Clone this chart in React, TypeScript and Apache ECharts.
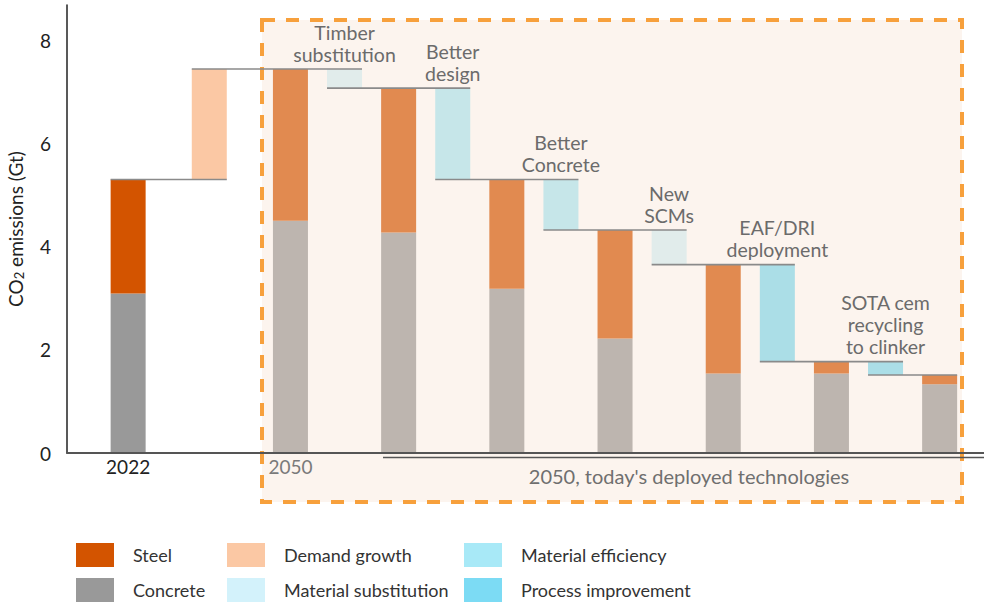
import React, { useEffect, useRef } from 'react';
import * as echarts from 'echarts';

// ---- data ----
const barPositions = [0, 3, 5, 7, 9, 11, 13, 15];
const barTotals = [5.3, 7.44, 7.07, 5.3, 4.32, 3.65, 1.77, 1.51];
const barConcrete = [3.09, 4.5, 4.27, 3.18, 2.22, 1.54, 1.54, 1.33];
const stepPositions = [1.5, 4, 6, 8, 10, 12, 14];
const stepLabels = [
  '',
  'Timber\nsubstitution',
  'Better\ndesign',
  'Better\nConcrete',
  'New\nSCMs',
  'EAF/DRI\ndeployment',
  'SOTA cem\nrecycling\nto clinker',
];
const stepCategories = [
  'Demand growth',
  'Material substitution',
  'Material efficiency',
  'Material efficiency',
  'Material substitution',
  'Process improvement',
  'Process improvement',
];
const xTickValues = [0, 3];
const xTickLabels = ['2022', '2050'];
const yTickValues = [0, 2, 4, 6, 8];
const legendColumns = [
  ['Steel', 'Concrete'],
  ['Demand growth', 'Material substitution'],
  ['Material efficiency', 'Process improvement'],
];
const bracketText = "2050, today's deployed technologies";

const COLORS: Record<string, string> = {
  Steel: '#D35400',
  Concrete: '#999999',
  'Demand growth': '#FBC8A4',
  'Material substitution': '#D3F2FB',
  'Material efficiency': '#A8E9F7',
  'Process improvement': '#7CDBF4',
};

const FONT = 'Lato, "Open Sans", sans-serif';
const BAR_W = 35;

function rectRenderer(color: string) {
  return (params: any, api: any) => {
    const x = api.value(0);
    const lo = api.value(1);
    const hi = api.value(2);
    const pTop = api.coord([x, hi]);
    const pBot = api.coord([x, lo]);
    return {
      type: 'rect',
      shape: { x: pTop[0] - BAR_W / 2, y: pTop[1], width: BAR_W, height: pBot[1] - pTop[1] },
      style: { fill: color },
    };
  };
}

export default function App() {
  const ref = useRef<HTMLDivElement>(null);

  useEffect(() => {
    if (!ref.current) return;
    const chart = echarts.init(ref.current, null, { renderer: 'svg' });

    const series: any[] = [];
    series.push({
      type: 'custom',
      name: 'Concrete',
      itemStyle: { color: COLORS.Concrete },
      renderItem: rectRenderer(COLORS.Concrete),
      encode: { x: 0, y: [1, 2] },
      data: barPositions.map((p, i) => [p, 0, barConcrete[i]]),
      z: 2,
    });
    series.push({
      type: 'custom',
      name: 'Steel',
      itemStyle: { color: COLORS.Steel },
      renderItem: rectRenderer(COLORS.Steel),
      encode: { x: 0, y: [1, 2] },
      data: barPositions.map((p, i) => [p, barConcrete[i], barTotals[i]]),
      z: 2,
    });
    ['Demand growth', 'Material substitution', 'Material efficiency', 'Process improvement'].forEach((cat) => {
      const data: number[][] = [];
      stepPositions.forEach((p, i) => {
        if (stepCategories[i] !== cat) return;
        const a = barTotals[i];
        const b = barTotals[i + 1];
        data.push([p, Math.min(a, b), Math.max(a, b)]);
      });
      series.push({
        type: 'custom',
        name: cat,
        itemStyle: { color: COLORS[cat] },
        renderItem: rectRenderer(COLORS[cat]),
        encode: { x: 0, y: [1, 2] },
        data,
        z: 2,
      });
    });

    // connector lines
    const connectors = barTotals.map((lvl, i) => [
      i === 0 ? barPositions[0] : stepPositions[i - 1],
      i === barTotals.length - 1 ? barPositions[barPositions.length - 1] : stepPositions[i],
      lvl,
    ]);
    series.push({
      type: 'custom',
      name: 'connectors',
      silent: true,
      encode: { x: [0, 1], y: 2 },
      data: connectors,
      z: 15,
      renderItem: (params: any, api: any) => {
        const p0 = api.coord([api.value(0), api.value(2)]);
        const p1 = api.coord([api.value(1), api.value(2)]);
        return {
          type: 'line',
          shape: { x1: p0[0] - BAR_W / 2, y1: p0[1], x2: p1[0] + BAR_W / 2, y2: p1[1] },
          style: { stroke: '#8a8a8a', lineWidth: 1.6 },
        };
      },
    });

    // annotation labels above step bars
    const labelData: any[] = [];
    stepPositions.forEach((p, i) => {
      if (!stepLabels[i]) return;
      labelData.push({ value: [p, Math.max(barTotals[i], barTotals[i + 1])], label: stepLabels[i] });
    });
    series.push({
      type: 'custom',
      name: 'annotations',
      silent: true,
      encode: { x: 0, y: 1 },
      data: labelData.map((d) => d.value),
      z: 20,
      renderItem: (params: any, api: any) => {
        const pt = api.coord([api.value(0), api.value(1)]);
        return {
          type: 'text',
          x: pt[0],
          y: pt[1] - 4,
          style: {
            text: labelData[params.dataIndex].label,
            fill: '#6b6b6b',
            fontSize: 19.5,
            fontFamily: FONT,
            lineHeight: 22,
            align: 'center',
            verticalAlign: 'bottom',
          },
        };
      },
    });

    const option: any = {
      animation: false,
      backgroundColor: '#ffffff',
      grid: { left: 67, right: 0, top: 5, bottom: 149, outerBoundsMode: 'none', containLabel: false },
      xAxis: {
        type: 'value',
        min: -1.13,
        max: 15.82,
        z: 20,
        axisLine: { show: true, onZero: false, lineStyle: { color: '#555555', width: 2 } },
        axisTick: { show: false },
        splitLine: { show: false },
        axisLabel: {
          customValues: xTickValues,
          formatter: (v: number) => {
            const i = xTickValues.indexOf(v);
            return i >= 0 ? xTickLabels[i] : '';
          },
          color: (v: any) => (Number(v) === xTickValues[0] ? '#222222' : '#7a7a7a'),
          fontSize: 19,
          fontFamily: FONT,
          margin: 4,
        },
      },
      yAxis: {
        type: 'value',
        min: 0,
        max: 8.68,
        interval: 2,
        name: 'CO{sub|2} emissions (Gt)',
        nameLocation: 'middle',
        nameRotate: 90,
        nameGap: 42,
        nameTextStyle: {
          fontSize: 19,
          fontFamily: FONT,
          color: '#222222',
          rich: { sub: { fontSize: 13, fontFamily: FONT, color: '#222222', verticalAlign: 'bottom', padding: [7, 0, 0, 0] } },
        },
        axisLine: { show: true, onZero: false, lineStyle: { color: '#222222', width: 1.5 } },
        axisTick: { show: false },
        splitLine: { show: false },
        axisLabel: {
          formatter: (v: number) => (yTickValues.indexOf(v) >= 0 ? String(v) : ''),
          fontSize: 19,
          fontFamily: FONT,
          color: '#222222',
          margin: 16,
        },
      },
      legend: legendColumns.map((col, k) => ({
        orient: 'vertical',
        left: [76, 227, 464][k],
        top: 543,
        padding: 0,
        itemWidth: 38,
        itemHeight: 24,
        itemGap: 11,
        icon: 'rect',
        selectedMode: false,
        data: col,
        textStyle: { fontSize: 18, fontFamily: FONT, color: '#333333', padding: [0, 0, 0, 14] },
      })),
      graphic: [
        {
          type: 'rect',
          silent: true,
          z: 10,
          shape: { x: 262, y: 20, width: 700, height: 482 },
          style: { fill: 'rgba(248,226,210,0.38)', stroke: '#F7A03C', lineWidth: 4, lineDash: [13, 11] },
        },
        {
          type: 'line',
          silent: true,
          z: 20,
          shape: { x1: 383, y1: 457.5, x2: 984, y2: 457.5 },
          style: { stroke: '#555555', lineWidth: 1.5 },
        },
        {
          type: 'text',
          silent: true,
          z: 20,
          x: 689,
          y: 476,
          style: {
            text: bracketText,
            fill: '#6f6f6f',
            fontSize: 20,
            fontFamily: FONT,
            align: 'center',
            verticalAlign: 'middle',
            textAlign: 'center',
            textVerticalAlign: 'middle',
          },
        },
      ],
      series,
    };

    chart.setOption(option);
    return () => chart.dispose();
  }, []);

  return (
    <div
      ref={ref}
      style={{ position: 'absolute', left: 0, top: 0, width: 984, height: 602 }}
    />
  );
}
